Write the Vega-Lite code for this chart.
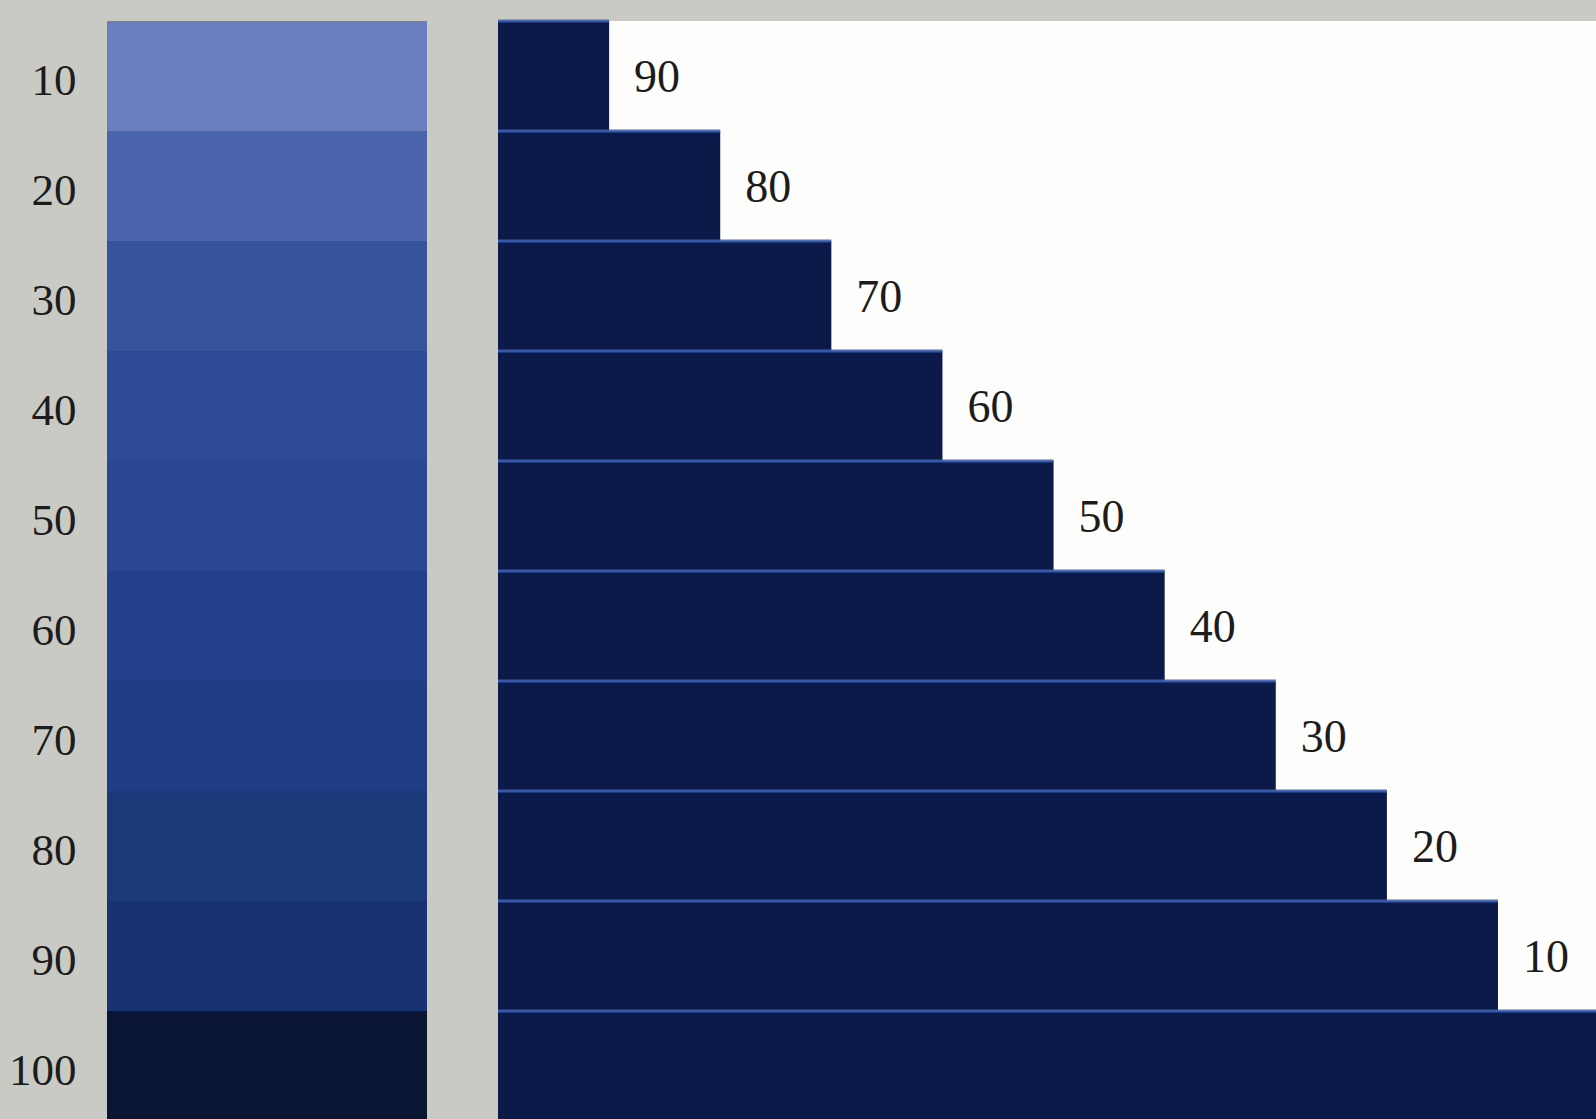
{
  "$schema": "https://vega.github.io/schema/vega-lite/v6.json",
  "background": "#cacac5",
  "padding": {"top": 19, "left": 0, "right": 0, "bottom": 0},
  "spacing": 69,
  "config": {"view": {"stroke": null}, "font": "Liberation Serif"},
  "data": {"values": [
    {"tint": 10, "white": "90"},
    {"tint": 20, "white": "80"},
    {"tint": 30, "white": "70"},
    {"tint": 40, "white": "60"},
    {"tint": 50, "white": "50"},
    {"tint": 60, "white": "40"},
    {"tint": 70, "white": "30"},
    {"tint": 80, "white": "20"},
    {"tint": 90, "white": "10"},
    {"tint": 100, "white": ""}
  ]},
  "hconcat": [
    {
      "width": 320,
      "height": 1100,
      "mark": {"type": "bar", "width": {"band": 1}},
      "encoding": {
        "y": {"field": "tint", "type": "ordinal", "sort": "ascending",
              "scale": {"paddingInner": 0, "paddingOuter": 0},
              "axis": {"title": null, "ticks": false, "domain": false, "labelPadding": 31,
                       "labelFontSize": 45, "labelFont": "Liberation Serif", "labelColor": "#1c1c1c",
                       "labelOffset": 5, "minExtent": 107, "maxExtent": 107}},
        "color": {"field": "tint", "type": "ordinal", "legend": null,
                  "scale": {"domain": [10,20,30,40,50,60,70,80,90,100],
                            "range": ["#6a7fc0","#4b65ad","#36549c","#2d4b95","#2a4690","#22418a","#1f3d83","#1b3878","#183270","#0a1433"]}}
      }
    },
    {
      "width": 1100,
      "height": 1100,
      "view": {"fill": "#fdfdfb", "stroke": null},
      "encoding": {
        "y": {"field": "tint", "type": "ordinal", "sort": "ascending",
              "scale": {"paddingInner": 0, "paddingOuter": 0}, "axis": null}
      },
      "layer": [
        {
          "mark": {"type": "bar", "color": "#0b1a48", "height": {"band": 1}},
          "encoding": {
            "x": {"field": "tint", "type": "quantitative", "stack": null, "scale": {"domain": [0, 99], "clamp": true, "nice": false}, "axis": null}
          }
        },
        {
          "mark": {"type": "rule", "color": "#3b5fb5", "strokeWidth": 3, "opacity": 0.9},
          "encoding": {
            "y": {"field": "tint", "type": "ordinal", "bandPosition": 0},
            "x": {"field": "tint", "type": "quantitative"},
            "x2": {"datum": 0}
          }
        },
        {
          "transform": [{"filter": "datum.tint < 100"}],
          "mark": {"type": "text", "align": "left", "baseline": "middle", "dx": 25, "dy": 2,
                   "fontSize": 46, "font": "Liberation Serif", "color": "#1c1c1c"},
          "encoding": {
            "x": {"field": "tint", "type": "quantitative"},
            "text": {"field": "white"}
          }
        }
      ]
    }
  ]
}
